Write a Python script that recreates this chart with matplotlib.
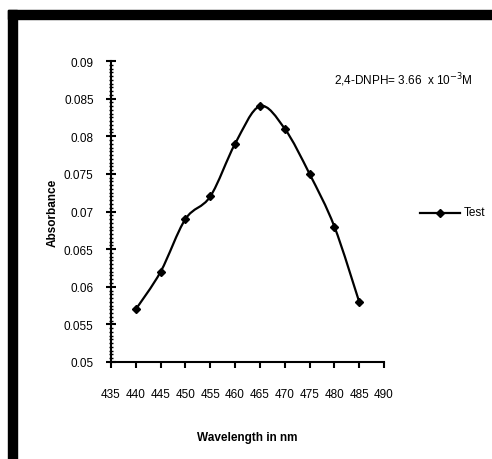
import matplotlib.pyplot as plt
import numpy as np
from matplotlib.path import Path
from matplotlib.patches import PathPatch, Rectangle
from matplotlib.lines import Line2D
from matplotlib.ticker import MultipleLocator

plt.rcParams['font.family'] = ['Liberation Sans Narrow', 'Liberation Sans', 'DejaVu Sans']

wavelength = [440, 445, 450, 455, 460, 465, 470, 475, 480, 485]
absorbance = [0.057, 0.062, 0.069, 0.072, 0.079, 0.084, 0.081, 0.075, 0.068, 0.058]
series_name = "Test"

fig = plt.figure(figsize=(4.92, 4.6), dpi=100)
W, H = 492, 460

# black frame (top and left, rest is cut off)
fig.patches.append(Rectangle((8 / W, 0), 9 / W, 1 - 11 / H, transform=fig.transFigure,
                             color='black', zorder=0))
fig.patches.append(Rectangle((8 / W, 1 - 20 / H), 1, 9 / H, transform=fig.transFigure,
                             color='black', zorder=0))

ax = fig.add_axes([111 / W, 1 - 363 / H, (384 - 111) / W, (363 - 62) / H])
ax.set_xlim(435, 490)
ax.set_ylim(0.05, 0.09)

# smoothed line like a spreadsheet "smooth line"
pts = np.column_stack([wavelength, absorbance])
verts = [pts[0]]
codes = [Path.MOVETO]
n = len(pts)
for i in range(n - 1):
    p0 = pts[max(i - 1, 0)]
    p1 = pts[i]
    p2 = pts[i + 1]
    p3 = pts[min(i + 2, n - 1)]
    verts += [p1 + (p2 - p0) / 6, p2 - (p3 - p1) / 6, p2]
    codes += [Path.CURVE4] * 3
ax.add_patch(PathPatch(Path(verts, codes), facecolor='none', edgecolor='black', lw=1.6))
ax.plot(wavelength, absorbance, linestyle='none', marker='D', markersize=4, color='black')

for s in ['top', 'right']:
    ax.spines[s].set_visible(False)
for s in ['left', 'bottom']:
    ax.spines[s].set_linewidth(1.5)

ax.xaxis.set_major_locator(MultipleLocator(5))
ax.yaxis.set_minor_locator(MultipleLocator(0.0005))
ax.set_yticks(np.arange(0.05, 0.0901, 0.005))
ax.set_yticklabels(['0.05', '0.055', '0.06', '0.065', '0.07', '0.075', '0.08', '0.085', '0.09'])
ax.tick_params(axis='y', which='major', direction='inout', length=7, width=1.5, pad=9, labelsize=8.5)
ax.tick_params(axis='y', which='minor', direction='inout', length=3, width=1)
ax.tick_params(axis='x', which='major', direction='out', length=4, width=1.5, pad=15, labelsize=8.5)

ax.set_xlabel("Wavelength in nm", fontsize=8.5, fontweight='bold', labelpad=22)
ax.set_ylabel("Absorbance", fontsize=8.5, fontweight='bold', labelpad=4)

fig.text(334 / W, 1 - 80 / H, r"2,4-DNPH= 3.66  x 10$^{-3}$M", fontsize=8.5, va='center', ha='left')

# legend drawn outside the plot area
fig.add_artist(Line2D([420 / W, 460 / W], [1 - 214 / H, 1 - 214 / H], color='black', lw=1.6,
                      transform=fig.transFigure))
fig.add_artist(Line2D([440 / W], [1 - 214 / H], marker='D', markersize=4, color='black',
                      transform=fig.transFigure))
fig.text(464 / W, 1 - 213 / H, series_name, fontsize=8.5, va='center', ha='left')

fig.savefig("out.png", dpi=100)
